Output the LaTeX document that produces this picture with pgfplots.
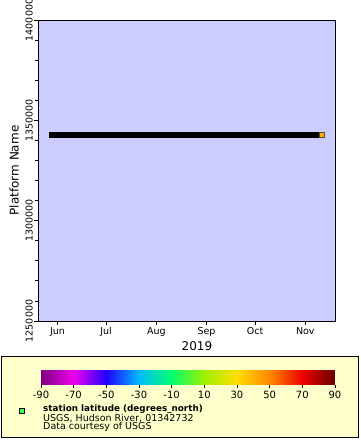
\documentclass[border=0pt]{standalone}
\usepackage{fontspec}
\setmainfont{DejaVu Sans}
\usepackage{pgfplots}
\pgfplotsset{compat=1.18}
\definecolor{lav}{HTML}{CCCCFF}
\definecolor{legbg}{HTML}{FFFFCC}
\definecolor{mkgreen}{HTML}{44FF44}
\definecolor{mkorange}{HTML}{FFAA00}
\pgfplotsset{
  colormap={erd}{rgb255(0)=(128,0,128); rgb255(1)=(238,0,238); rgb255(2)=(32,0,255);
    rgb255(3)=(0,187,255); rgb255(4)=(0,255,110); rgb255(5)=(160,240,0);
    rgb255(6)=(255,221,0); rgb255(7)=(255,136,0); rgb255(8)=(238,0,0); rgb255(9)=(105,0,0)}
}
\begin{document}
\begin{tikzpicture}
\useasboundingbox (0,0) rectangle (360pt,440pt);
\filldraw[fill=legbg, draw=black, line width=1pt] (1pt,2pt) rectangle (358pt,83pt);
\begin{axis}[
  at={(38pt,119pt)}, anchor=south west, scale only axis,
  width=297pt, height=301pt,
  xmin=-12, xmax=171.3, ymin=1250000, ymax=1400000,
  axis background/.style={fill=lav},
  xtick={0,30,61,92,122,153}, xticklabels={Jun,Jul,Aug,Sep,Oct,Nov},
  ytick={1250000,1300000,1350000,1400000},
  yticklabels={1250000,1300000,1350000,1400000},
  minor y tick num=4,
  scaled y ticks=false,
  tick align=outside, tick pos=left,
  major tick length=4pt, minor tick length=3pt,
  every tick/.style={black, line width=0.8pt},
  axis line style={line width=0.8pt},
  tick label style={font=\fontsize{9.5}{11}\selectfont},
  yticklabel style={rotate=90, anchor=south, inner sep=1pt},
  xticklabel style={inner sep=2pt},
  xlabel={2019}, ylabel={Platform Name},
  label style={font=\fontsize{12}{14}\selectfont},
  xlabel style={at={(axis description cs:0.535,-0.098)}, anchor=base, inner sep=0pt},
  ylabel style={at={(axis description cs:-0.064,0.5)}, anchor=south, inner sep=0pt},
  colormap name=erd,
  point meta min=-90, point meta max=90,
  colorbar horizontal,
  colorbar style={
    at={(parent axis.south west)}, anchor=south west,
    xshift=3pt, yshift=-55pt,
    width=294pt, height=14pt, scale only axis,
    xtick={-90,-70,-50,-30,-10,10,30,50,70,90},
    xticklabels={-90,-70,-50,-30,-10,10,30,50,70,90},
    tick align=outside, xtick pos=bottom, xticklabel pos=lower,
    major tick length=3pt,
    axis line style={draw=none},
    every tick/.style={black, line width=0.8pt},
    xticklabel style={font=\fontsize{10}{12}\selectfont, inner sep=1pt, yshift=-2pt},
  },
]
\addplot[black, line width=6pt, line cap=butt] coordinates {(-5.2,1342732) (163.1,1342732)};
\addplot[only marks, mark=square*, mark size=2.5pt, mark options={fill=mkorange, draw=black!70, line width=0.4pt}] coordinates {(163.1,1342732)};
\end{axis}
\filldraw[fill=mkgreen, draw=black, line width=0.9pt] (19pt,26.7pt) rectangle (24.2pt,31.7pt);
\node[anchor=base west, inner sep=0pt, font=\bfseries\fontsize{8.8}{11}\selectfont] at (43pt,28pt) {station latitude (degrees\_north)};
\node[anchor=base west, inner sep=0pt, font=\fontsize{9.5}{11}\selectfont] at (43pt,19pt) {USGS, Hudson River, 01342732};
\node[anchor=base west, inner sep=0pt, font=\fontsize{9.5}{11}\selectfont] at (43pt,10.5pt) {Data courtesy of USGS};
\end{tikzpicture}
\end{document}
